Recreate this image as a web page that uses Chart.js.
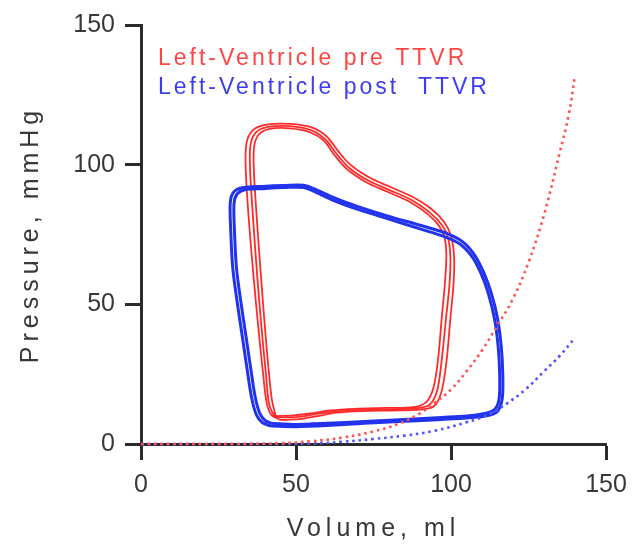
<!DOCTYPE html>
<html><head><meta charset="utf-8">
<script src="https://cdn.jsdelivr.net/npm/chart.js@4/dist/chart.umd.min.js"></script>
<style>html,body{margin:0;padding:0;background:#fff;} canvas{display:block;}</style>
</head><body>
<canvas id="c" width="644" height="545"></canvas>
<script>
// ---- data ----
const seriesNames = ['Left-Ventricle pre TTVR', 'Left-Ventricle post  TTVR'];
const xTitle = 'Volume, ml';
const yTitle = 'Pressure, mmHg';
const xTickValues = [0, 50, 100, 150];
const yTickValues = [0, 50, 100, 150];

// pre-TTVR pressure-volume loops (3 overlapping beats)
const preLoop1V = [44,50,56,62,70,80,89,93,95.5,97,98.4,99.5,99.8,99,97,93,87,80,73,67,63,59.5,55,48,41,37,35.3,35.2,36.2,37.5,39,40.3,41.2,42.5,44];
const preLoop1P = [9.5,9.6,10.6,11.6,12.2,12.4,12.8,14,19,30,45,57,67,74,78.5,83,87.5,91,94.5,99,104,109,112.3,113.8,113.5,111.5,107,98,80,60,40,25,15,11,9.5];
const preLoop2V = [45,51,57,63,71,81,90,94.5,97,98.6,99.8,100.8,101,100,97.8,93.5,87.5,80.5,73.5,67.5,63.5,60,55.5,48,40.5,36,34,33.8,34.8,36.3,38,39.4,40.5,42,45];
const preLoop2P = [8.6,8.9,10,11.2,11.8,12,12.3,13.5,19,30,45,57,67,74.5,79.5,84.3,88.5,92,95.5,100,105,110,113.2,114.6,114.3,112.3,107.5,98,80,60,40,25,15,10.5,8.6];
const preLoop3V = [43.5,49,55,61,69,79,88,92,94.3,95.8,97,98,98.5,98,96.2,92.5,86.5,79.5,72.5,66.5,62.5,59,54.5,48,41.5,38,36.5,36.4,37.4,38.7,40.1,41.3,42.2,43,43.5];
const preLoop3P = [10,10.2,11,12,12.6,12.9,13.2,15,20,30,45,57,67,73.5,78,82.3,86.8,90.3,93.8,98.3,103.3,108.5,111.6,113,112.8,110.8,106.5,98,80,60,40,25,16,12,10];

// post-TTVR pressure-volume loops (2 overlapping beats)
const postLoop1V = [42,50,60,72,85,97,105,110.5,114,115.5,115.7,115.2,114,112,109.5,106.5,103,98.5,90,80,70,63,57,52.5,46,39,33.5,31,30,30.2,30.8,32.2,33.8,35.4,36.8,38.3,40,42];
const postLoop1P = [7.4,7,7.4,8.1,8.8,9.5,10,10.8,12.3,16,25,35,45,54,61.5,67.5,71.5,74,77,80.5,84,86.8,89.8,91.8,91.8,91.4,91,89.5,86,75,63,51,39,27,17,11,8.5,7.4];
const postLoop2V = [42,50,60,72,85,97,105,111,114.8,116.5,116.7,116.2,115,113,110.5,107.5,104,99,90,80,70,63,57,52.5,46,39,33,30,28.8,29,29.6,31,32.6,34.2,35.6,37.2,39.2,42];
const postLoop2P = [6.4,6.2,6.6,7.4,8.1,8.8,9.3,10,11.5,16,25,35,45,54,61.5,67.8,72.2,75.2,78.3,81.5,85,87.8,90.8,92.6,92.5,92.2,91.8,90.3,86.5,75,63,51,39,27,17,10.5,7.6,6.4];

// end-diastolic pressure-volume relations (dotted)
const preEdpvrV = [0,30,45,55,65,75,83,90,95,100,105,110,115,120,125,130,135,138,140];
const preEdpvrP = [0,0,0.3,1,2.3,4.5,7.2,11,15,19.5,26,33.5,42.5,52,65,82,104,118,132];
const postEdpvrV = [0,40,55,65,75,85,95,105,112,118,124,130,135,140];
const postEdpvrP = [0,0,0.2,0.8,1.8,3,4.8,7.8,10.5,14.5,19.5,26,31.5,38];

// ---- styling / build ----
const FAMILY = '"Liberation Sans", Arial, Helvetica, sans-serif';
const RED = '#ff2b2b', BLUE = '#2233ee';
const RED_DOT = '#ff5555', BLUE_DOT = '#5555ff';
const legendColors = ['#ff4444', '#3c3cf0'];
const AXIS = '#2b2b2b', TEXT = '#383838';
const TITLE_SPACING = 5;

const pts = (v, p) => v.map((x, i) => ({x, y: p[i]}));

function loop(v, p, color, w) {
  return {data: pts(v, p), borderColor: color, borderWidth: w, showLine: true,
          pointRadius: 0, tension: 0.3, fill: false, clip: false};
}
function dotted(v, p, color) {
  return {data: pts(v, p), borderColor: color, borderWidth: 2.6, showLine: true,
          pointRadius: 0, tension: 0.4, fill: false, borderDash: [2.6, 3.8],
          borderCapStyle: 'butt', clip: false};
}

// letter spacing for axis titles
if (Chart.Scale && Chart.Scale.prototype.drawTitle) {
  const origDrawTitle = Chart.Scale.prototype.drawTitle;
  Chart.Scale.prototype.drawTitle = function () {
    const ctx = this.ctx;
    const has = 'letterSpacing' in ctx;
    const prev = has ? ctx.letterSpacing : null;
    if (has) ctx.letterSpacing = TITLE_SPACING + 'px';
    origDrawTitle.call(this);
    if (has) ctx.letterSpacing = prev;
  };
}

const inlineLegend = {
  id: 'inlineLegend',
  afterDatasetsDraw(chart) {
    const {ctx, chartArea} = chart;
    ctx.save();
    ctx.font = '23px ' + FAMILY;
    if ('letterSpacing' in ctx) ctx.letterSpacing = '3px';
    ctx.textBaseline = 'alphabetic';
    ctx.textAlign = 'left';
    seriesNames.forEach((name, i) => {
      ctx.fillStyle = legendColors[i];
      ctx.fillText(name, chartArea.left + 17, chartArea.top + 40 + i * 29);
    });
    ctx.restore();
  }
};

const datasets = [
  dotted(preEdpvrV, preEdpvrP, RED_DOT),
  dotted(postEdpvrV, postEdpvrP, BLUE_DOT),
  loop(postLoop1V, postLoop1P, BLUE, 3),
  loop(postLoop2V, postLoop2P, BLUE, 3),
  loop(preLoop1V, preLoop1P, RED, 1.8),
  loop(preLoop2V, preLoop2P, RED, 1.8),
  loop(preLoop3V, preLoop3P, RED, 1.8)
];

function axis(ticksArr, titleText, isX) {
  return {
    type: 'linear',
    min: ticksArr[0], max: ticksArr[ticksArr.length - 1],
    afterBuildTicks: (s) => { s.ticks = ticksArr.map(v => ({value: v})); },
    ticks: {font: {size: 25, family: FAMILY}, color: TEXT, padding: 10, maxRotation: 0},
    grid: {display: true, drawOnChartArea: false, drawTicks: true, tickLength: 16,
           tickWidth: 3, tickColor: AXIS},
    border: {display: true, color: AXIS, width: 3},
    title: {display: true, text: titleText, color: TEXT, font: {size: 25, family: FAMILY},
            padding: isX ? {top: 0, bottom: 1} : {top: 16, bottom: 0}},
    afterFit: isX ? (s) => { s.height = 101; } : (s) => { s.width = 141; }
  };
}

new Chart(document.getElementById('c'), {
  type: 'scatter',
  data: {datasets},
  options: {
    responsive: false,
    animation: false,
    events: [],
    layout: {padding: {left: 0, right: 38, top: 21, bottom: 0}},
    plugins: {legend: {display: false}, tooltip: {enabled: false}},
    scales: {
      x: axis(xTickValues, xTitle, true),
      y: axis(yTickValues, yTitle, false)
    }
  },
  plugins: [inlineLegend]
});
</script>
</body></html>
